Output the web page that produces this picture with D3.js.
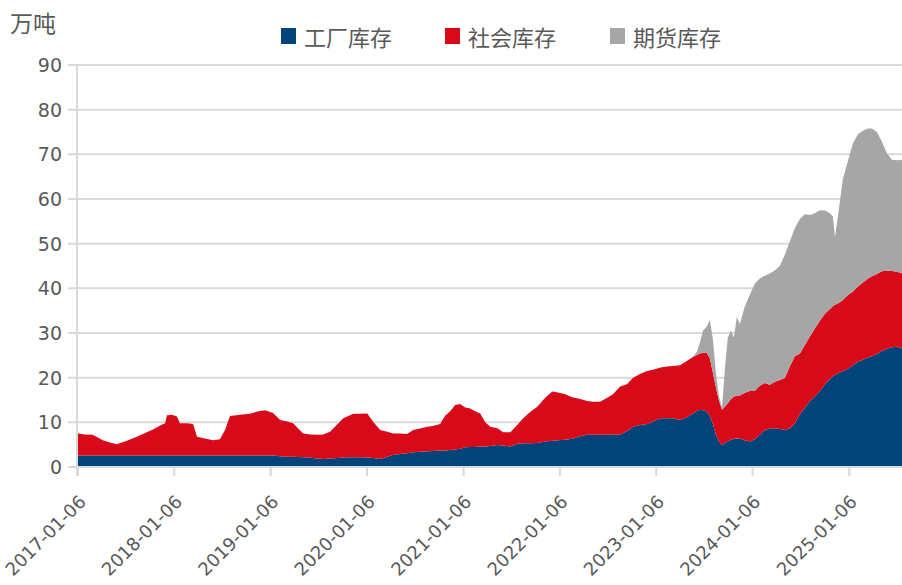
<!DOCTYPE html>
<html>
<head>
<meta charset="utf-8">
<script src="https://cdn.jsdelivr.net/npm/d3@7/dist/d3.min.js"></script>
<style>
  html, body { margin: 0; padding: 0; background: #fff; }
  svg { display: block; }
</style>
</head>
<body>
<svg id="chart" width="902" height="585"></svg>
<script>
const dates = [
"2017-01-06","2017-02-01","2017-03-03","2017-04-10","2017-05-07","2017-06-02","2017-07-10","2017-08-17","2017-09-17","2017-10-17",
"2017-11-13","2017-12-02","2017-12-09","2017-12-28","2018-01-16","2018-01-27","2018-02-23","2018-03-18","2018-04-02","2018-05-02",
"2018-06-02","2018-06-28","2018-07-17","2018-08-05","2018-09-12","2018-10-20","2018-11-16","2018-12-16","2019-01-15","2019-02-11",
"2019-03-10","2019-04-01","2019-05-09","2019-06-05","2019-07-01","2019-07-24","2019-08-19","2019-09-15","2019-10-08","2019-10-23",
"2019-11-15","2019-12-11","2020-01-07","2020-01-30","2020-02-25","2020-03-23","2020-04-14","2020-05-11","2020-06-06","2020-06-29",
"2020-07-25","2020-08-21","2020-09-12","2020-10-09","2020-10-28","2020-11-16","2020-12-05","2020-12-24","2021-01-12","2021-01-31",
"2021-02-19","2021-03-10","2021-03-29","2021-04-17","2021-05-14","2021-06-05","2021-07-02","2021-07-28","2021-08-20","2021-09-15",
"2021-10-12","2021-11-11","2021-12-08","2021-12-30","2022-01-26","2022-02-21","2022-03-24","2022-04-19","2022-05-12","2022-06-07",
"2022-07-04","2022-07-26","2022-08-22","2022-09-17","2022-10-10","2022-11-05","2022-12-02","2022-12-25","2023-01-22","2023-02-16",
"2023-03-11","2023-04-06","2023-05-03","2023-05-25","2023-06-09","2023-06-21","2023-07-02","2023-07-17","2023-07-28","2023-08-09",
"2023-08-20","2023-08-31","2023-09-12","2023-09-23","2023-10-04","2023-10-16","2023-10-27","2023-11-07","2023-11-19","2023-12-07",
"2023-12-26","2024-01-14","2024-02-02","2024-02-21","2024-03-11","2024-03-30","2024-04-18","2024-05-07","2024-05-26","2024-06-14",
"2024-07-03","2024-07-22","2024-08-10","2024-08-29","2024-09-17","2024-10-06","2024-10-25","2024-11-05","2024-11-13","2024-11-24",
"2024-12-13","2025-01-01","2025-01-20","2025-02-08","2025-02-27","2025-03-18","2025-04-02","2025-04-21","2025-05-10","2025-05-29",
"2025-06-17","2025-07-06","2025-07-25"
];

// 工厂库存 (万吨)
const factory = [
2.6,2.6,2.6,2.6,2.6,2.6,2.6,2.6,2.6,2.6,
2.6,2.6,2.6,2.6,2.6,2.6,2.6,2.6,2.6,2.6,
2.6,2.6,2.6,2.6,2.6,2.6,2.6,2.6,2.6,2.4,
2.3,2.3,2.2,2.1,1.9,1.8,1.9,2.0,2.1,2.2,
2.2,2.2,2.1,2.0,1.8,2.3,2.7,2.9,3.1,3.3,
3.4,3.5,3.6,3.7,3.7,3.8,3.9,4.1,4.4,4.5,
4.5,4.6,4.6,4.7,4.9,4.8,4.6,5.2,5.3,5.3,
5.4,5.7,5.9,6.0,6.1,6.3,6.9,7.2,7.2,7.2,
7.2,7.2,7.3,8.0,9.0,9.4,9.6,10.2,10.9,10.9,
10.9,10.5,11.2,12.0,12.6,12.8,12.7,12.4,11.5,9.5,
7.2,5.8,4.9,5.4,5.8,6.1,6.3,6.4,6.4,6.0,
5.7,6.2,7.2,8.3,8.6,8.7,8.5,8.3,8.7,9.8,
11.8,13.3,14.8,15.8,17.0,18.5,19.7,20.3,20.6,21.0,
21.5,22.0,22.8,23.6,24.0,24.5,24.8,25.3,26.0,26.5,
26.8,26.9,26.6
];

// 社会库存 (万吨)
const social = [
4.9,4.7,4.6,3.4,2.9,2.5,3.3,4.2,5.0,5.8,
6.7,7.2,9.0,9.1,8.7,7.2,7.2,7.0,4.2,3.8,
3.4,3.6,5.7,8.8,9.1,9.3,9.8,10.1,9.5,8.1,
7.9,7.5,5.3,5.2,5.3,5.5,6.0,7.5,8.8,9.1,
9.7,9.7,9.9,8.1,6.5,5.6,4.8,4.6,4.3,5.0,
5.2,5.5,5.6,5.9,7.8,8.7,10.0,10.0,8.9,8.6,
8.0,7.4,5.4,4.3,3.8,3.0,3.2,4.2,5.6,7.0,
8.1,9.8,11.0,10.7,10.2,9.3,8.3,7.6,7.4,7.4,
8.3,9.1,10.7,10.5,11.0,11.4,11.9,11.6,11.4,11.6,
11.7,12.3,12.6,12.6,12.5,12.6,12.9,13.1,12.8,11.5,
10.6,9.2,7.9,8.1,8.5,9.1,9.4,9.6,9.6,10.6,
11.3,10.8,11.0,10.5,9.8,10.4,11.0,11.6,13.8,15.0,
13.6,14.0,14.4,15.2,15.8,15.8,15.7,15.7,15.7,15.6,
15.9,16.5,16.5,16.8,17.3,17.7,17.9,17.9,17.8,17.5,
17.1,16.8,16.8
];

// 期货库存 (万吨)
const futures = [
0,0,0,0,0,0,0,0,0,0,
0,0,0,0,0,0,0,0,0,0,
0,0,0,0,0,0,0,0,0,0,
0,0,0,0,0,0,0,0,0,0,
0,0,0,0,0,0,0,0,0,0,
0,0,0,0,0,0,0,0,0,0,
0,0,0,0,0,0,0,0,0,0,
0,0,0,0,0,0,0,0,0,0,
0,0,0,0,0,0,0,0,0,0,
0,0,0,0,0.7,2.6,4.9,6.0,8.6,7.4,
3.2,1.0,0.4,8.5,14.7,15.3,13.3,17.5,16.0,19.3,
21.5,24.0,24.0,24.0,24.9,24.9,25.5,27.6,28.0,28.7,
30.1,29.3,27.2,25.8,24.7,23.1,21.4,20.0,15.2,19.4,
27.1,30.0,33.2,34.1,34.0,33.6,33.1,31.8,29.0,26.2,
24.9,25.0,25.4
];

const seriesNames = ["工厂库存", "社会库存", "期货库存"];
const seriesColors = ["#00447a", "#d80a1a", "#a6a6a6"];
const yTicks = [0, 10, 20, 30, 40, 50, 60, 70, 80, 90];
const xTickLabels = ["2017-01-06","2018-01-06","2019-01-06","2020-01-06","2021-01-06","2022-01-06","2023-01-06","2024-01-06","2025-01-06"];
const unitLabel = "万吨";
const xDomain = ["2017-01-06", "2025-07-25"];

(function () {
  const parse = d3.utcParse("%Y-%m-%d");
  const rows = dates.map((d, i) => ({
    date: parse(d),
    [seriesNames[0]]: factory[i],
    [seriesNames[1]]: social[i],
    [seriesNames[2]]: futures[i]
  }));

  const svg = d3.select("#chart");
  const pL = 77, pR = 902, pT = 65, pB = 467;

  const x = d3.scaleUtc().domain(xDomain.map(parse)).range([pL + 1, pR]);
  const y = d3.scaleLinear().domain([0, 90]).range([pB, pT]);

  const gridColor = "#d9d9d9";
  const textColor = "#595959";

  // gridlines + y tick marks
  svg.append("g").selectAll("line").data(yTicks).join("line")
    .attr("x1", pL - 9).attr("x2", pR)
    .attr("y1", d => y(d)).attr("y2", d => y(d))
    .attr("stroke", gridColor).attr("stroke-width", 2);

  // stacked areas
  const stack = d3.stack().keys(seriesNames);
  const layers = stack(rows);
  const area = d3.area()
    .x(d => x(d.data.date))
    .y0(d => y(d[0]))
    .y1(d => y(d[1]))
    .curve(d3.curveLinear);

  svg.append("g").selectAll("path").data(layers).join("path")
    .attr("d", area)
    .attr("fill", (d, i) => seriesColors[i]);

  // y axis line
  svg.append("line")
    .attr("x1", pL).attr("x2", pL).attr("y1", pT).attr("y2", pB + 9)
    .attr("stroke", gridColor).attr("stroke-width", 2);
  // x axis line
  svg.append("line")
    .attr("x1", pL - 9).attr("x2", pR).attr("y1", pB).attr("y2", pB)
    .attr("stroke", gridColor).attr("stroke-width", 2);

  // x tick marks
  svg.append("g").selectAll("line").data(xTickLabels).join("line")
    .attr("x1", d => x(parse(d))).attr("x2", d => x(parse(d)))
    .attr("y1", pB).attr("y2", pB + 9)
    .attr("stroke", gridColor).attr("stroke-width", 2);

  // y labels
  svg.append("g").selectAll("text").data(yTicks).join("text")
    .attr("x", 62).attr("y", d => y(d))
    .attr("text-anchor", "end")
    .attr("dominant-baseline", "central")
    .attr("font-family", "'DejaVu Sans', sans-serif")
    .attr("font-size", 19)
    .attr("fill", textColor)
    .text(d => d);

  // x labels
  svg.append("g").selectAll("text").data(xTickLabels).join("text")
    .attr("transform", d => `translate(${x(parse(d)) + 9},${pB + 36}) rotate(-45)`)
    .attr("text-anchor", "end")
    .attr("font-family", "'DejaVu Sans', sans-serif")
    .attr("font-size", 18)
    .attr("fill", textColor)
    .text(d => d);

  // unit label
  svg.append("text")
    .attr("x", 10).attr("y", 22)
    .attr("dominant-baseline", "central")
    .attr("font-family", "'Noto Sans CJK SC', sans-serif")
    .attr("font-size", 23)
    .attr("fill", textColor)
    .text(unitLabel);

  // legend
  const legendX = [281, 445, 610];
  const lg = svg.append("g").selectAll("g").data(seriesNames).join("g")
    .attr("transform", (d, i) => `translate(${legendX[i]},28)`);
  lg.append("rect").attr("width", 15).attr("height", 16)
    .attr("fill", (d, i) => seriesColors[i]);
  lg.append("text")
    .attr("x", 23).attr("y", 8)
    .attr("dominant-baseline", "central")
    .attr("font-family", "'Noto Sans CJK SC', sans-serif")
    .attr("font-size", 22)
    .attr("fill", textColor)
    .text(d => d);
})();
</script>
</body>
</html>
